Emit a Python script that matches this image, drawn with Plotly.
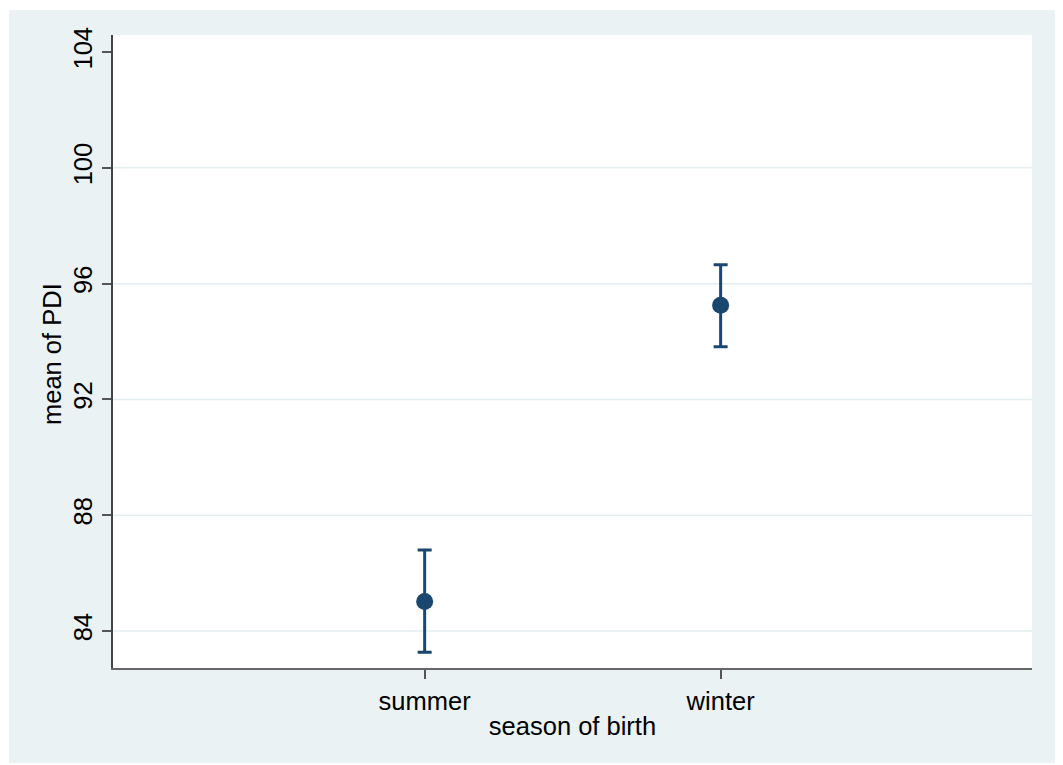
import plotly.graph_objects as go

# ---- data ----
seasons = ["summer", "winter"]
mean_pdi = [85.02, 95.25]
ci_upper = [86.80, 96.65]
ci_lower = [83.26, 93.82]
y_ticks = [84, 88, 92, 96, 100, 104]
grid_values = [84, 88, 92, 96, 100]

# ---- layout geometry (pixels); page body adds an 8px offset ----
OFF = 8
W, H = 1063 - OFF, 765 - OFF
L, R, T, B = 113 - OFF, 1032 - OFF, 35 - OFF, 668 - OFF
pw, ph = R - L, B - T

def px_x(p):
    return (p - OFF - L) / pw

def px_y(p):
    return (B - (p - OFF)) / ph

navy = "#1a476f"
bg = "#eaf2f3"

fig = go.Figure()
fig.add_trace(go.Scatter(
    x=seasons, y=mean_pdi, mode="markers",
    marker=dict(size=17, color=navy),
    error_y=dict(type="data", symmetric=False,
                 array=[u - m for u, m in zip(ci_upper, mean_pdi)],
                 arrayminus=[m - l for m, l in zip(mean_pdi, ci_lower)],
                 color=navy, thickness=3, width=7),
    showlegend=False,
))

xr = [-1.053, 2.052]
shapes = []
for g in grid_values:
    shapes.append(dict(type="line", xref="x", yref="y", x0=xr[0], x1=xr[1],
                       y0=g, y1=g, line=dict(color="#e4eef1", width=1.5),
                       layer="below"))
# white border around the light graph region (reference page coordinates)
white = dict(type="rect", xref="paper", yref="paper", fillcolor="white",
             line=dict(width=0), layer="below")
shapes += [
    dict(white, x0=px_x(OFF), x1=px_x(9), y0=px_y(H + OFF), y1=px_y(OFF)),
    dict(white, x0=px_x(1059), x1=px_x(W + OFF), y0=px_y(H + OFF), y1=px_y(OFF)),
    dict(white, x0=px_x(OFF), x1=px_x(W + OFF), y0=px_y(10), y1=px_y(OFF)),
    dict(white, x0=px_x(OFF), x1=px_x(W + OFF), y0=px_y(H + OFF), y1=px_y(763)),
]

font = dict(family="Liberation Sans, Arial, Helvetica, sans-serif", size=25.5, color="#000000")

fig.update_layout(
    width=W, height=H,
    margin=dict(l=L, r=W - R, t=T, b=H - B, pad=0),
    paper_bgcolor=bg, plot_bgcolor="white",
    font=font,
    shapes=shapes,
    annotations=[dict(
        text="mean of PDI", textangle=-90, showarrow=False,
        xref="paper", yref="paper", x=px_x(52), y=px_y(354),
        xanchor="center", yanchor="middle", font=font,
    )],
    xaxis=dict(
        type="category", range=xr,
        showgrid=False, zeroline=False,
        showline=True, linecolor="#666666", linewidth=2,
        ticks="outside", ticklen=9, tickwidth=1.5, tickcolor="#555555",
        tickfont=font,
        title=dict(text="season of birth", font=font, standoff=4),
    ),
    yaxis=dict(
        range=[82.72, 104.59],
        tickvals=y_ticks, ticktext=[str(v) for v in y_ticks],
        tickangle=-90,
        showgrid=False, zeroline=False,
        showline=True, linecolor="#444444", linewidth=2,
        ticks="outside", ticklen=9, tickwidth=1.5, tickcolor="#555555",
        tickfont=font,
    ),
)

fig.write_html("out.html")
